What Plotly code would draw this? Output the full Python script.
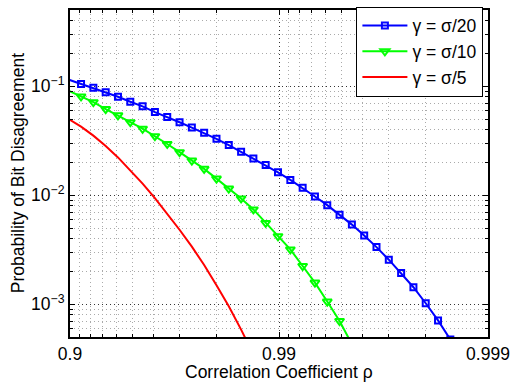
import plotly.graph_objects as go

# Correlation coefficient samples (shared grid for all curves)
rho = [0.89861, 0.91146, 0.92269, 0.93251, 0.94105, 0.94854, 0.95506, 0.96076,
       0.96574, 0.97009, 0.97388, 0.97719, 0.98009, 0.98261, 0.98482, 0.98674,
       0.98842, 0.98989, 0.991174, 0.992294, 0.993270, 0.994124, 0.994869, 0.995520,
       0.996088, 0.996584, 0.997017, 0.997396, 0.997726, 0.998014, 0.998266, 0.998486]

p_sigma20 = [0.1146, 0.1049, 0.0965, 0.0882, 0.0799, 0.0719, 0.0653, 0.0579,
             0.0522, 0.0467, 0.0417, 0.0373, 0.0329, 0.0288, 0.0250, 0.0217,
             0.0189, 0.0162, 0.0138, 0.01168, 0.00973, 0.00810, 0.00663, 0.00537,
             0.00426, 0.00334, 0.00256, 0.00193, 0.00143, 0.00102, 0.000710, 0.000474]

p_sigma10 = [0.0906, 0.0805, 0.0714, 0.0617, 0.0541, 0.0467, 0.0407, 0.0348,
             0.0295, 0.0248, 0.0208, 0.01744, 0.01420, 0.01151, 0.00933, 0.00741,
             0.00556, 0.00420, 0.00318, 0.00224, 0.001577, 0.001058, 0.000701, 0.00043]

p_sigma5 = [0.0498, 0.0426, 0.0352, 0.0283, 0.0222, 0.0170, 0.01276, 0.00939,
            0.00678, 0.00482, 0.00337, 0.00229, 0.001493, 0.000957, 0.000584, 0.000346]

series_names = ["γ = σ/20", "γ = σ/10", "γ = σ/5"]

x_tick_labels = ["0.9", "0.99", "0.999"]
x_tick_rho = [0.9, 0.99, 0.999]
y_tick_vals = [1e-3, 1e-2, 1e-1]
y_tick_labels = ["10<sup>−3</sup>", "10<sup>−2</sup>", "10<sup>−1</sup>"]

x_title = "Correlation Coefficient ρ"
y_title = "Probability of Bit Disagreement"

FONT = "Liberation Sans, Arial, Helvetica, sans-serif"


def one_minus(vals):
    return [1.0 - v for v in vals]


fig = go.Figure()

n20 = len(p_sigma20)
fig.add_trace(go.Scatter(
    x=one_minus(rho[:n20]), y=p_sigma20, name=series_names[0],
    mode="lines+markers",
    line=dict(color="#0000ff", width=2),
    marker=dict(symbol="square-open", size=6, color="#0000ff",
                line=dict(width=2, color="#0000ff"),
                opacity=[0] + [1] * (n20 - 1)),
))

n10 = len(p_sigma10)
fig.add_trace(go.Scatter(
    x=one_minus(rho[:n10]), y=p_sigma10, name=series_names[1],
    mode="lines+markers",
    line=dict(color="#00ff00", width=2),
    marker=dict(symbol="triangle-down-open", size=8, color="#00ff00",
                line=dict(width=2, color="#00ff00"),
                opacity=[0] + [1] * (n10 - 1)),
))

n5 = len(p_sigma5)
fig.add_trace(go.Scatter(
    x=one_minus(rho[:n5]), y=p_sigma5, name=series_names[2],
    mode="lines",
    line=dict(color="#ff0000", width=2),
))

# minor grid positions
x_minor = [m / 100 for m in range(2, 10)] + [m / 1000 for m in range(2, 10)]
y_minor = ([m * 1e-4 for m in range(5, 10)] + [m * 1e-3 for m in range(2, 10)] +
           [m * 1e-2 for m in range(2, 10)] + [m * 1e-1 for m in range(2, 6)])

fig.update_xaxes(
    type="log", range=[-1, -3], autorange=False,
    tickmode="array", tickvals=one_minus(x_tick_rho), ticktext=x_tick_labels,
    showgrid=True, gridcolor="#333333", griddash="1px,3px", gridwidth=1,
    ticks="inside", ticklen=5, tickcolor="black", tickwidth=1,
    showline=True, linecolor="black", linewidth=2, mirror="ticks",
    tickfont=dict(family=FONT, size=17.5, color="black"),
    minor=dict(tickvals=x_minor, showgrid=True, gridcolor="#aaaaaa",
               griddash="1px,3px", gridwidth=1, ticks="inside", ticklen=3,
               tickcolor="black"),
    zeroline=False,
)

fig.update_yaxes(
    type="log", range=[-3.30103, -0.30103], autorange=False,
    tickmode="array", tickvals=y_tick_vals, ticktext=y_tick_labels,
    showgrid=True, gridcolor="#333333", griddash="1px,3px", gridwidth=1,
    ticks="inside", ticklen=5, tickcolor="black", tickwidth=1,
    showline=True, linecolor="black", linewidth=2, mirror="ticks",
    tickfont=dict(family=FONT, size=17.5, color="black"),
    minor=dict(tickvals=y_minor, showgrid=True, gridcolor="#aaaaaa",
               griddash="1px,3px", gridwidth=1, ticks="inside", ticklen=3,
               tickcolor="black"),
    zeroline=False,
)

fig.add_annotation(
    text=x_title, xref="paper", yref="paper", x=0.5, y=-0.108,
    xanchor="center", yanchor="middle", showarrow=False,
    font=dict(family=FONT, size=17.5, color="black"),
)
fig.add_annotation(
    text=y_title, xref="paper", yref="paper", x=-0.125, y=0.5,
    xanchor="center", yanchor="middle", showarrow=False, textangle=-90,
    font=dict(family=FONT, size=17.5, color="black"),
)

fig.update_layout(
    width=517, height=383,
    margin=dict(l=70, r=23, t=7, b=46, pad=0),
    paper_bgcolor="white", plot_bgcolor="white",
    font=dict(family=FONT, size=17.5, color="black"),
    showlegend=True,
    legend=dict(x=0.989, y=1.01, xanchor="right", yanchor="top",
                bgcolor="white", bordercolor="black", borderwidth=1,
                font=dict(family=FONT, size=17.5, color="black"),
                tracegroupgap=0, itemwidth=45),
)

fig.write_html("out.html",
               config={"displayModeBar": False},
               post_script="document.body.style.margin='0';document.body.style.overflow='hidden';")
